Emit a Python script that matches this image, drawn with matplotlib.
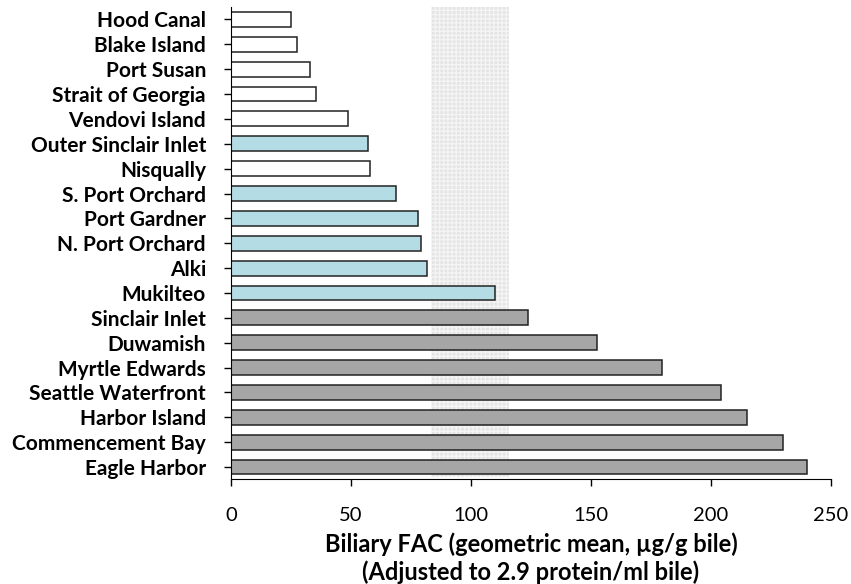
from matplotlib import pyplot as plt
import numpy as np

# sites from top to bottom as in the figure
sites = ['Hood Canal', 'Blake Island', 'Port Susan', 'Strait of Georgia',
         'Vendovi Island', 'Outer Sinclair Inlet', 'Nisqually', 'S. Port Orchard',
         'Port Gardner', 'N. Port Orchard', 'Alki', 'Mukilteo', 'Sinclair Inlet',
         'Duwamish', 'Myrtle Edwards', 'Seattle Waterfront', 'Harbor Island',
         'Commencement Bay', 'Eagle Harbor']
fac = [25, 27.5, 33, 35.5, 48.7, 57, 58, 68.7, 77.8, 79.2, 81.7, 110.1,
       123.6, 152.5, 179.6, 204, 215, 230, 240]
group = ['ref', 'ref', 'ref', 'ref', 'ref', 'mid', 'ref', 'mid', 'mid', 'mid',
         'mid', 'mid', 'high', 'high', 'high', 'high', 'high', 'high', 'high']
band = (83.3, 116)

colours = {'ref': 'white', 'mid': '#b4dce4', 'high': '#a6a6a6'}

plt.rcParams['font.family'] = ['Lato', 'DejaVu Sans']

fig = plt.figure(figsize=(8.51, 5.84), dpi=100)
ax = fig.add_axes([0.2714, 0.179, 0.705, 0.809])

ax.axvspan(band[0], band[1], ymin=0.005, ymax=1, facecolor='#e4e4e4',
           edgecolor='#f4f4f4', hatch='++++', linewidth=0, zorder=0)

y = np.arange(len(sites))[::-1]
ax.barh(y, fac, height=0.6, color=[colours[g] for g in group],
        edgecolor='#222222', linewidth=1.1, zorder=2)

ax.set_yticks(y)
ax.set_yticklabels(sites, fontsize=15, fontweight='bold')
ax.set_ylim(-0.5, 18.5)
ax.set_xlim(0, 250)
ax.set_xticks([0, 50, 100, 150, 200, 250])
ax.tick_params(axis='x', labelsize=14.5, length=5, width=1, pad=15)
ax.tick_params(axis='y', length=5, width=1, pad=13)

ax.spines['top'].set_visible(False)
ax.spines['right'].set_visible(False)

ax.set_xlabel('Biliary FAC (geometric mean, \u00b5g/g bile)\n(Adjusted to 2.9 protein/ml bile)',
              fontsize=17, fontweight='bold', linespacing=1.2)
ax.xaxis.set_label_coords(0.5, -0.113)

plt.savefig('out.png', dpi=100)
